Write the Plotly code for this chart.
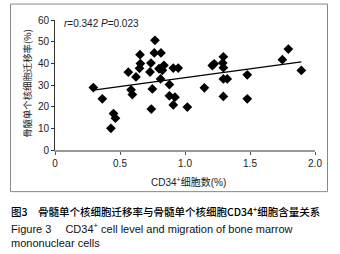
import numpy as np
import plotly.graph_objects as go

# ---- data ----
cd34_pct = [0.295, 0.364, 0.43, 0.45, 0.465, 0.564, 0.585, 0.595, 0.623, 0.654,
            0.657, 0.65, 0.738, 0.731, 0.769, 0.764, 0.815, 0.80, 0.838, 0.826,
            0.812, 0.749, 0.741, 0.88, 0.91, 0.948, 0.88, 0.923, 0.91, 1.018,
            1.149, 1.225, 1.21, 1.295, 1.29, 1.295, 1.295, 1.325, 1.295, 1.479,
            1.479, 1.749, 1.795, 1.895]
migration_pct = [28.8, 23.6, 10.0, 16.8, 14.7, 35.9, 27.8, 25.6, 33.7, 44.0,
                 39.9, 37.7, 40.1, 36.0, 50.6, 44.8, 44.8, 37.5, 39.1, 36.8,
                 32.8, 28.2, 18.9, 30.2, 37.8, 37.8, 25.0, 24.4, 20.8, 19.8,
                 28.7, 39.8, 39.0, 43.0, 40.2, 38.0, 32.8, 32.8, 24.7, 34.7,
                 23.6, 41.7, 46.6, 36.7]
x_ticks = [0, 0.5, 1.0, 1.5, 2.0]
x_tick_labels = ["0", "0.5", "1.0", "1.5", "2.0"]
y_ticks = [0, 10, 20, 30, 40, 50, 60]
stats_text = "<i>r</i>=0.342 <i>P</i>=0.023"

# ---- trend line (least squares) ----
slope, intercept = np.polyfit(cd34_pct, migration_pct, 1)
tx = np.array([min(cd34_pct), max(cd34_pct)])
ty = slope * tx + intercept

# ---- layout geometry (pixels) ----
W, H = 340, 254
L, R, T, B = 55, 25, 20.4, 104
pw, ph = W - L - R, H - T - B

def px2x(px):
    return (px - L) / pw

def py2y(py):
    return (H - B - py) / ph

fig = go.Figure()
fig.add_trace(go.Scatter(x=tx, y=ty, mode="lines",
                         line=dict(color="black", width=1.3),
                         hoverinfo="skip", showlegend=False))
fig.add_trace(go.Scatter(x=cd34_pct, y=migration_pct, mode="markers",
                         marker=dict(symbol="diamond", size=7.5, color="black"),
                         showlegend=False))

tickfont = dict(family="Arial, Liberation Sans, sans-serif", size=10, color="#222")
fig.update_layout(
    width=W, height=H,
    margin=dict(l=L, r=R, t=T, b=B, pad=0),
    paper_bgcolor="white", plot_bgcolor="white",
    xaxis=dict(range=[0, 2.0], tickvals=x_ticks, ticktext=x_tick_labels,
               showgrid=False, zeroline=False, showline=True,
               linecolor="#999", linewidth=1.5, ticks="outside", ticklen=3,
               tickcolor="#555", tickfont=tickfont, fixedrange=True),
    yaxis=dict(range=[0, 60], tickvals=y_ticks,
               showgrid=False, zeroline=False, showline=True,
               linecolor="#333", linewidth=1, ticks="outside", ticklen=3,
               tickcolor="#333", tickfont=tickfont, fixedrange=True),
    shapes=[dict(type="rect", xref="paper", yref="paper",
                 x0=px2x(10.5), x1=px2x(327.5), y0=py2y(191.5), y1=py2y(4.5),
                 line=dict(color="#888", width=1), fillcolor="rgba(0,0,0,0)",
                 layer="below")],
    annotations=[
        dict(text=stats_text, xref="paper", yref="paper",
             x=px2x(62), y=py2y(24), xanchor="left", yanchor="middle",
             showarrow=False, font=dict(family="Arial, Liberation Sans, sans-serif",
                                        size=10, color="#222")),
        dict(text="CD34<sup>+</sup>细胞数(%)", xref="paper", yref="paper",
             x=px2x(188), y=py2y(182), xanchor="center", yanchor="middle",
             showarrow=False, font=dict(family="Arial, Noto Sans CJK SC, sans-serif",
                                        size=10, color="#222")),
        dict(text="骨髓单个核细胞迁移率(%)", xref="paper", yref="paper",
             x=px2x(27), y=py2y(84), xanchor="center", yanchor="middle",
             textangle=-90, showarrow=False,
             font=dict(family="Noto Sans CJK SC, Arial, sans-serif", size=9.4, color="#222")),
        dict(text="图3　骨髓单个核细胞迁移率与骨髓单个核细胞CD34<sup>+</sup>细胞含量关系",
             xref="paper", yref="paper", x=px2x(9), y=py2y(211),
             xanchor="left", yanchor="middle", showarrow=False,
             font=dict(family="Noto Sans CJK SC, Arial, sans-serif", size=10.5,
                       color="black", weight=500)),
        dict(text="Figure 3　 CD34<sup>+</sup> cell level and migration of bone marrow",
             xref="paper", yref="paper", x=px2x(9), y=py2y(228),
             xanchor="left", yanchor="middle", showarrow=False,
             font=dict(family="Arial, Liberation Sans, sans-serif", size=11, color="#111")),
        dict(text="mononuclear cells",
             xref="paper", yref="paper", x=px2x(9), y=py2y(243),
             xanchor="left", yanchor="middle", showarrow=False,
             font=dict(family="Arial, Liberation Sans, sans-serif", size=11, color="#111")),
    ],
)

fig.write_html("out.html", config={"displayModeBar": False},
               post_script="document.body.style.margin='0';document.body.style.padding='0';")
